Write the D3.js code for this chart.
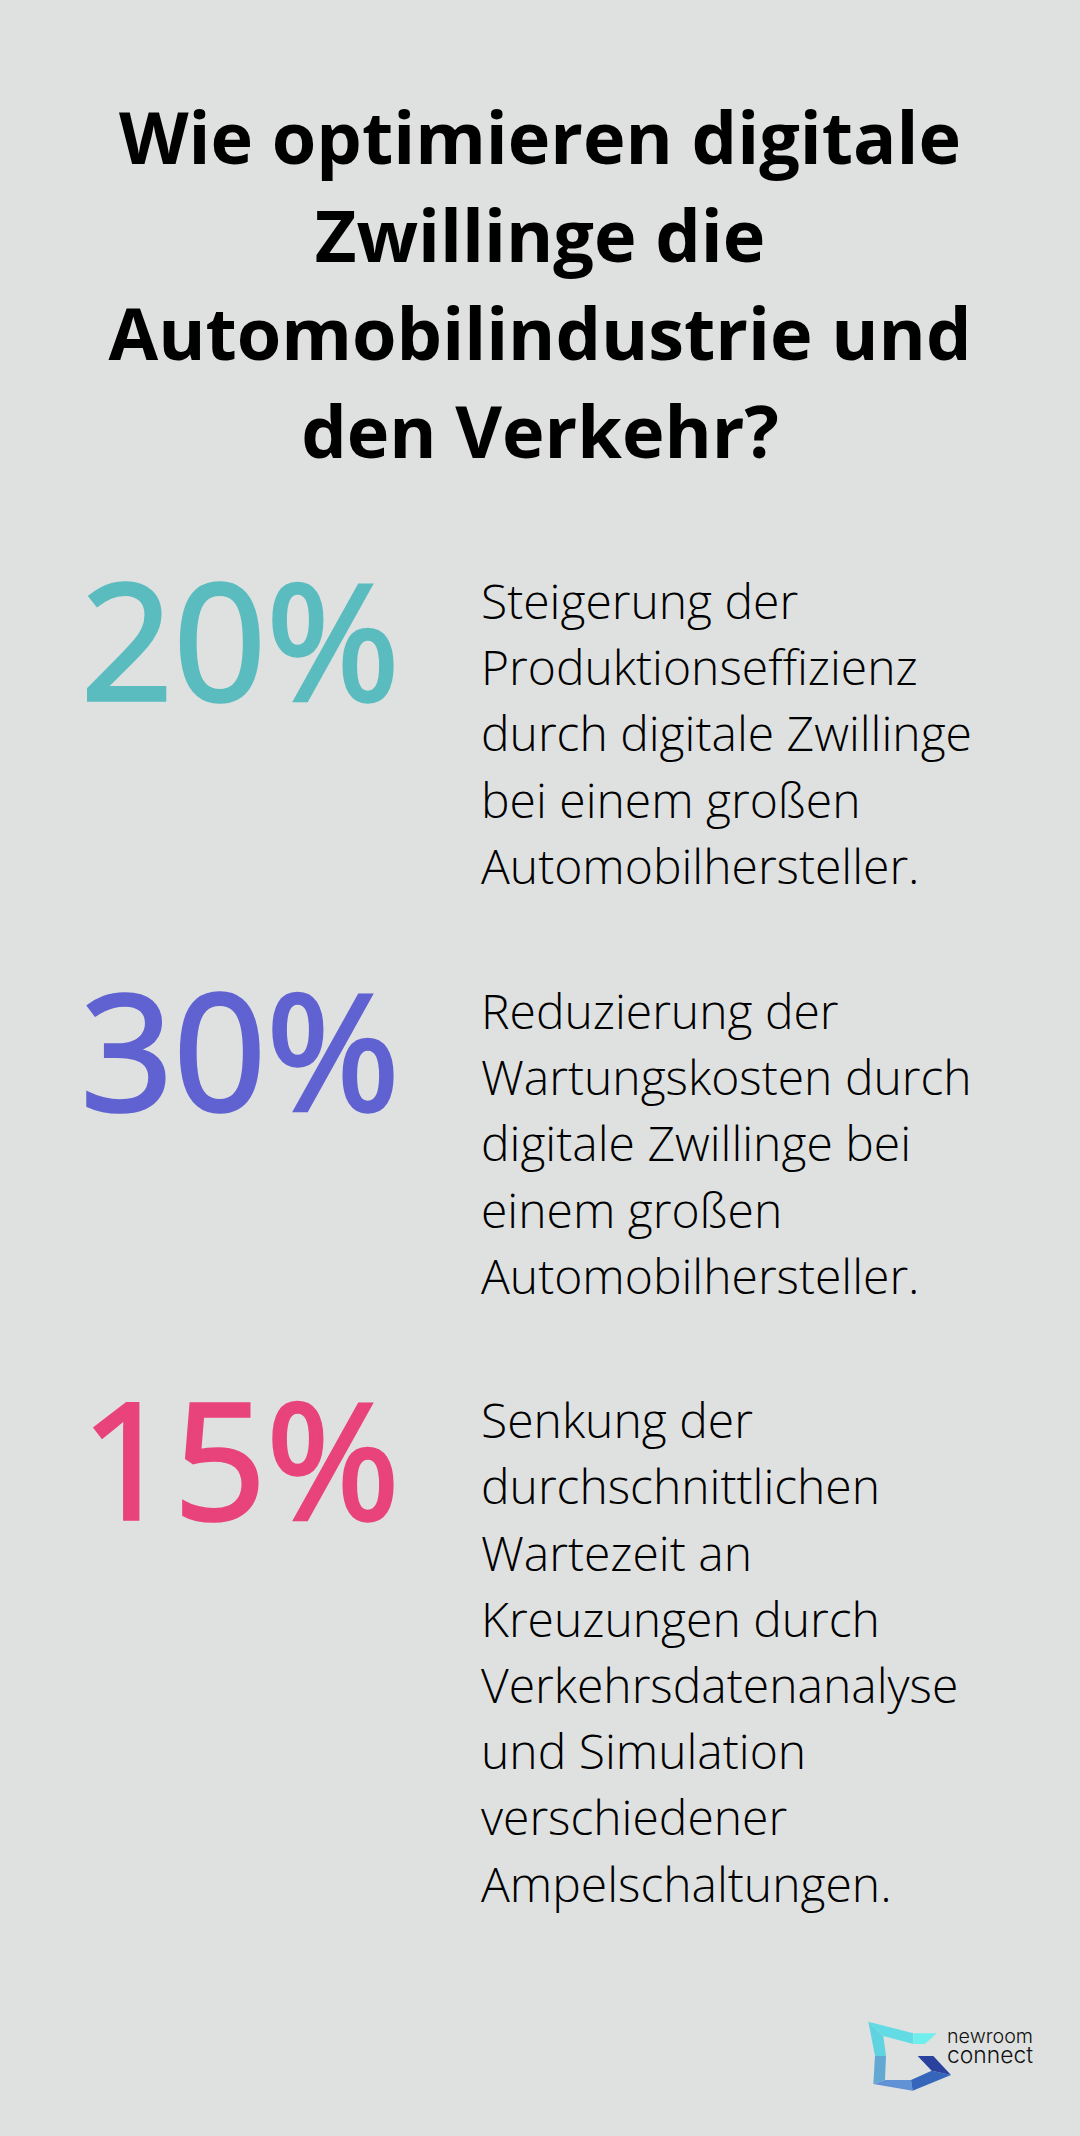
<!DOCTYPE html>
<html>
<head>
<meta charset="utf-8">
<script src="https://cdn.jsdelivr.net/npm/d3@7"></script>
<style>
  html, body { margin: 0; padding: 0; background: #dfe1e0; }
  text { font-family: "Open Sans", sans-serif; }
</style>
</head>
<body>
<svg></svg>
<script>
// Chart content
const titleLines = ["Wie optimieren digitale", "Zwillinge die", "Automobilindustrie und", "den Verkehr?"];
const statValues = ["20%", "30%", "15%"];
const statColors = ["#5bbcbf", "#5f62d0", "#e8437a"];
const statLines = [
    ["Steigerung der", "Produktionseffizienz", "durch digitale Zwillinge", "bei einem großen", "Automobilhersteller."],
    ["Reduzierung der", "Wartungskosten durch", "digitale Zwillinge bei", "einem großen", "Automobilhersteller."],
    ["Senkung der", "durchschnittlichen", "Wartezeit an", "Kreuzungen durch", "Verkehrsdatenanalyse", "und Simulation", "verschiedener", "Ampelschaltungen."]
];
const logoWords = ["newroom", "connect"];

let canvasWidth = 1080;
let canvasHeight = 2136;
let svg = d3.select("svg").attr("width", canvasWidth).attr("height", canvasHeight);

svg.append("rect").attr("width", canvasWidth).attr("height", canvasHeight).attr("fill", "#dfe1e0");

// Title
let lineHeight = 66.2;
svg.append("g").selectAll("text").data(titleLines).join("text")
    .attr("x", canvasWidth / 2)
    .attr("y", (d, i) => 164 + i * 98)
    .attr("text-anchor", "middle")
    .attr("font-size", 72)
    .attr("font-weight", 700)
    .attr("fill", "#000")
    .text(d => d);

// Stat blocks, each one starts where the text of the previous one ended
let blockTops = [619, 1029, 1438.3];
let blocks = svg.selectAll("g.block").data(statValues).join("g")
    .attr("class", "block")
    .attr("transform", (d, i) => `translate(0,${blockTops[i]})`);

// the big numbers are a bit heavier than the regular cut, so thicken them with a stroke
blocks.append("text")
    .attr("x", 400)
    .attr("y", 81)
    .attr("text-anchor", "end")
    .attr("font-size", 162)
    .attr("font-weight", 400)
    .attr("stroke", (d, i) => statColors[i])
    .attr("stroke-width", 3.5)
    .attr("fill", (d, i) => statColors[i])
    .text(d => d);

blocks.each(function (d, i) {
    d3.select(this).selectAll("text.line").data(statLines[i]).join("text")
        .attr("class", "line")
        .attr("x", 481)
        .attr("y", (t, j) => j * lineHeight)
        .attr("font-size", 48)
        .attr("font-weight", 300)
        .attr("fill", "#000")
        .text(t => t);
});

// Logo
let logo = svg.append("g").attr("transform", "translate(840,2000) scale(0.3333)");
let logoShapes = [
    { fill: "#5fd3e0", pts: [[85, 65], [130, 108], [138, 168], [105, 168]] },
    { fill: "#62dbe4", pts: [[85, 65], [220, 100], [220, 132], [130, 108]] },
    { fill: "#70eeee", pts: [[220, 100], [290, 100], [255, 132], [220, 132]] },
    { fill: "#62a8d2", pts: [[105, 168], [138, 168], [135, 240], [100, 252]] },
    { fill: "#6292d6", pts: [[100, 252], [135, 240], [213, 240], [218, 272]] },
    { fill: "#3566bc", pts: [[213, 240], [275, 212], [333, 225], [218, 272]] },
    { fill: "#2a429e", pts: [[233, 168], [280, 168], [333, 225], [275, 212]] }
];
logo.selectAll("polygon").data(logoShapes).join("polygon")
    .attr("points", d => d.pts.join(" "))
    .attr("fill", d => d.fill);

svg.append("g").selectAll("text").data(logoWords).join("text")
    .attr("x", 947)
    .attr("y", (d, i) => 2043 + i * 20)
    .style("font-family", "Inter, sans-serif")
    .attr("font-size", (d, i) => i == 0 ? 19 : 23)
    .attr("font-weight", 300)
    .attr("fill", "#111")
    .attr("textLength", 86)
    .attr("lengthAdjust", "spacingAndGlyphs")
    .text(d => d);
</script>
</body>
</html>
